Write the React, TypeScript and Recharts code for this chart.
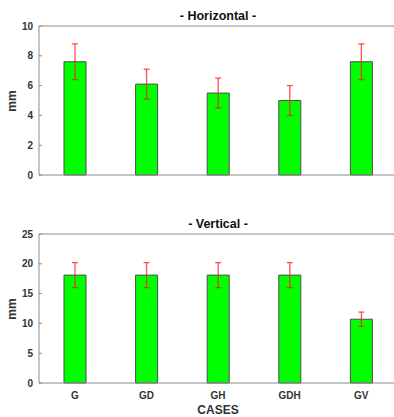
import { BarChart, Bar, XAxis, YAxis, ErrorBar } from 'recharts'

const CASES = ['G', 'GD', 'GH', 'GDH', 'GV']
const HORIZ_MEAN = [7.6, 6.1, 5.5, 5.0, 7.6]
const HORIZ_ERR = [1.2, 1.0, 1.0, 1.0, 1.2]
const VERT_MEAN = [18.1, 18.1, 18.1, 18.1, 10.7]
const VERT_ERR = [2.1, 2.1, 2.1, 2.1, 1.2]
const HORIZ_TICKS = [0, 2, 4, 6, 8, 10]
const VERT_TICKS = [0, 5, 10, 15, 20, 25]

const FONT = '"Liberation Sans", Arial, Helvetica, sans-serif'
const AXIS = '#8c8c8c'
const TEXT = '#333333'

interface PanelProps {
  title: string
  means: number[]
  errs: number[]
  ticks: number[]
  top: number
  height: number
  showCases: boolean
}

function Panel({ title, means, errs, ticks, top, height, showCases }: PanelProps) {
  const data = CASES.map((name, i) => ({ name, value: means[i], err: errs[i] }))
  const domain: [number, number] = [ticks[0], ticks[ticks.length - 1]]
  const tickStyle = { fontSize: 10, fontWeight: 700, fill: TEXT, fontFamily: FONT }
  const axisLine = { stroke: AXIS, strokeWidth: 1 }
  return (
    <div style={{ position: 'absolute', left: 0, top, width: 400, height }}>
      <div style={{
        position: 'absolute', left: 218, top: 16, transform: 'translate(-50%, -50%)',
        fontFamily: FONT, fontWeight: 700, fontSize: 12.5, color: '#111', whiteSpace: 'nowrap',
      }}>{title}</div>
      <div style={{
        position: 'absolute', left: 12, top: 26 + 149 / 2, transform: 'translate(-50%, -50%) rotate(-90deg)',
        fontFamily: FONT, fontWeight: 700, fontSize: 12, color: TEXT, whiteSpace: 'nowrap',
      }}>mm</div>
      <BarChart
        width={400}
        height={height}
        data={data}
        margin={{ top: 25, right: 2, bottom: height - 175 - (showCases ? 20 : 1), left: 0 }}
        barSize={22}
      >
        <XAxis
          dataKey="name"
          height={showCases ? 20 : 1}
          axisLine={axisLine}
          tickLine={{ stroke: AXIS }}
          tickSize={-3}
          tickMargin={12}
          tick={showCases ? tickStyle : false}
          interval={0}
        />
        <XAxis
          xAxisId="top"
          dataKey="name"
          orientation="top"
          height={1}
          axisLine={axisLine}
          tickLine={{ stroke: AXIS }}
          tickSize={-3}
          tick={false}
          interval={0}
        />
        <YAxis
          width={39}
          domain={domain}
          ticks={ticks}
          axisLine={axisLine}
          tickLine={{ stroke: AXIS }}
          tickSize={-3}
          tickMargin={9}
          tick={tickStyle}
          interval={0}
        />
        <YAxis
          yAxisId="right"
          orientation="right"
          width={1}
          domain={domain}
          ticks={ticks}
          axisLine={axisLine}
          tickLine={{ stroke: AXIS }}
          tickSize={-3}
          tick={false}
        />
        <Bar dataKey="value" fill="#00ff00" stroke="#4d4d4d" strokeWidth={1} isAnimationActive={false}>
          <ErrorBar dataKey="err" width={3} stroke="#ff1a1a" strokeOpacity={0.75} strokeWidth={1.3} />
        </Bar>
      </BarChart>
      {showCases && (
        <div style={{
          position: 'absolute', left: 218, top: 410 - top, transform: 'translate(-50%, -50%)',
          fontFamily: FONT, fontWeight: 700, fontSize: 12, color: TEXT,
        }}>CASES</div>
      )}
    </div>
  )
}

export default function App() {
  return (
    <div style={{ position: 'absolute', left: 0, top: 0, width: 394, height: 417, overflow: 'hidden', background: '#fff' }}>
      <Panel title="- Horizontal -" means={HORIZ_MEAN} errs={HORIZ_ERR} ticks={HORIZ_TICKS} top={0} height={200} showCases={false} />
      <Panel title="- Vertical -" means={VERT_MEAN} errs={VERT_ERR} ticks={VERT_TICKS} top={208} height={209} showCases={true} />
    </div>
  )
}
